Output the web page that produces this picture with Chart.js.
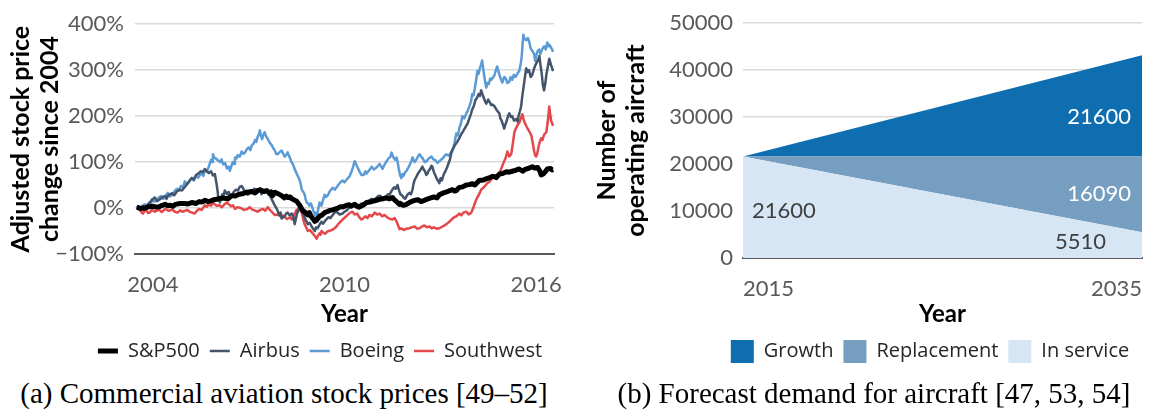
<!DOCTYPE html>
<html>
<head>
<meta charset="utf-8">
<script src="https://cdn.jsdelivr.net/npm/chart.js@4.4.1/dist/chart.umd.min.js"></script>
<style>
html,body{margin:0;padding:0;overflow:hidden;background:#fff;width:1156px;height:417px;position:relative;}
#c1{position:absolute;left:0;top:0;}
#c2{position:absolute;left:590px;top:0;}
.cap{position:absolute;top:377px;font-family:"Liberation Serif","Times New Roman",serif;font-size:29px;line-height:32px;color:#000;white-space:nowrap;transform:translateX(-50%);}
</style>
</head>
<body>
<canvas id="c1" width="640" height="371"></canvas>
<canvas id="c2" width="680" height="373"></canvas>
<div class="cap" style="left:284px">(a) Commercial aviation stock prices [49–52]</div>
<div class="cap" style="left:874px">(b) Forecast demand for aircraft [47, 53, 54]</div>
<script>
// ---------- Left chart data: [decimal year, % change since 2004] ----------
const sp500 = [[2003.50,2],[2003.62,-1],[2003.75,0],[2003.88,3],[2004.0,4],[2004.1,2],[2004.2,3],[2004.3,6],[2004.38,8],[2004.47,5],[2004.55,6],[2004.63,4],[2004.7,8],[2004.85,10],[2005.0,10],[2005.1,9],[2005.22,12],[2005.35,10],[2005.45,14],[2005.55,13],[2005.63,17],[2005.72,14],[2005.8,15],[2005.9,18],[2006.0,19],[2006.1,21],[2006.2,22],[2006.35,20],[2006.47,27],[2006.58,26],[2006.7,30],[2006.8,31],[2006.88,33],[2007.0,35],[2007.1,36],[2007.2,33],[2007.28,38],[2007.37,40],[2007.45,36],[2007.57,38],[2007.65,32],[2007.7,35],[2007.75,27],[2007.82,34],[2007.9,32],[2008.03,27],[2008.08,24],[2008.12,22],[2008.18,26],[2008.22,23],[2008.3,24],[2008.35,20],[2008.44,17],[2008.5,15],[2008.55,10],[2008.6,6],[2008.66,-2],[2008.7,-6],[2008.75,-8],[2008.8,-12],[2008.85,-15],[2008.9,-10],[2008.95,-18],[2009.0,-22],[2009.07,-29],[2009.12,-27],[2009.16,-23],[2009.22,-18],[2009.3,-15],[2009.38,-10],[2009.45,-8],[2009.55,-5],[2009.63,-4],[2009.72,-2],[2009.8,0],[2009.88,3],[2009.95,2],[2010.07,6],[2010.15,7],[2010.2,4],[2010.32,8],[2010.4,4],[2010.45,2],[2010.55,5],[2010.62,8],[2010.69,12],[2010.8,13],[2010.9,15],[2011.0,17],[2011.10,19],[2011.2,20],[2011.3,22],[2011.4,20],[2011.5,23],[2011.56,18],[2011.6,16],[2011.66,12],[2011.72,8],[2011.75,10],[2011.8,7],[2011.85,6],[2011.94,8],[2012.03,12],[2012.13,15],[2012.22,17],[2012.3,18],[2012.4,14],[2012.48,16],[2012.57,19],[2012.7,22],[2012.8,24],[2012.9,22],[2012.97,29],[2013.1,33],[2013.2,35],[2013.3,38],[2013.38,40],[2013.45,37],[2013.5,38],[2013.6,45],[2013.7,46],[2013.81,50],[2013.9,51],[2014.0,53],[2014.08,50],[2014.15,55],[2014.22,60],[2014.35,61],[2014.45,64],[2014.55,66],[2014.63,69],[2014.7,68],[2014.75,66],[2014.85,74],[2014.95,75],[2015.07,79],[2015.15,78],[2015.25,80],[2015.35,82],[2015.47,85],[2015.58,80],[2015.65,84],[2015.75,86],[2015.82,88],[2015.88,90],[2015.95,87],[2016.05,88],[2016.12,80],[2016.16,72],[2016.22,74],[2016.3,80],[2016.35,85],[2016.45,86],[2016.5,83],[2016.53,84]];
const airbus = [[2003.50,5],[2003.56,2],[2003.62,0],[2003.69,4],[2003.75,-2],[2003.82,6],[2003.88,10],[2003.95,16],[2004.06,23],[2004.13,15],[2004.2,18],[2004.3,24],[2004.38,26],[2004.43,20],[2004.47,27],[2004.54,30],[2004.6,32],[2004.67,28],[2004.75,36],[2004.83,40],[2004.91,38],[2004.98,44],[2005.05,50],[2005.13,58],[2005.22,65],[2005.28,62],[2005.35,72],[2005.42,75],[2005.5,80],[2005.56,78],[2005.63,85],[2005.69,80],[2005.75,76],[2005.82,80],[2005.88,71],[2005.94,74],[2005.97,62],[2006.0,50],[2006.03,35],[2006.05,20],[2006.08,16],[2006.10,12],[2006.14,22],[2006.18,30],[2006.21,26],[2006.25,38],[2006.29,34],[2006.32,30],[2006.38,35],[2006.42,24],[2006.47,27],[2006.53,35],[2006.6,40],[2006.66,38],[2006.72,46],[2006.78,48],[2006.83,42],[2006.88,35],[2006.93,38],[2006.97,29],[2007.03,32],[2007.1,35],[2007.17,42],[2007.25,40],[2007.30,36],[2007.35,42],[2007.40,30],[2007.45,36],[2007.50,33],[2007.57,38],[2007.65,28],[2007.70,22],[2007.75,15],[2007.80,8],[2007.88,-2],[2007.92,-8],[2007.95,-15],[2008.0,-10],[2008.03,-23],[2008.08,-20],[2008.13,-18],[2008.17,-12],[2008.22,-10],[2008.28,-16],[2008.35,-12],[2008.40,-20],[2008.44,-35],[2008.48,-22],[2008.52,-10],[2008.56,-2],[2008.60,6],[2008.64,-2],[2008.68,-10],[2008.72,-14],[2008.75,-20],[2008.80,-28],[2008.85,-35],[2008.91,-32],[2008.97,-40],[2009.02,-45],[2009.07,-50],[2009.11,-42],[2009.16,-44],[2009.22,-36],[2009.28,-30],[2009.33,-34],[2009.38,-29],[2009.44,-24],[2009.5,-20],[2009.56,-22],[2009.63,-15],[2009.69,-10],[2009.75,-8],[2009.85,-14],[2009.94,-12],[2010.0,-8],[2010.07,-5],[2010.16,2],[2010.25,6],[2010.32,4],[2010.4,0],[2010.46,6],[2010.53,10],[2010.6,8],[2010.69,12],[2010.77,16],[2010.85,20],[2010.92,18],[2011.0,22],[2011.05,26],[2011.10,27],[2011.2,22],[2011.3,25],[2011.36,30],[2011.41,29],[2011.48,38],[2011.55,45],[2011.6,42],[2011.66,50],[2011.7,40],[2011.75,30],[2011.81,27],[2011.86,22],[2011.9,20],[2011.96,28],[2012.03,33],[2012.08,30],[2012.13,40],[2012.16,52],[2012.19,60],[2012.25,68],[2012.30,75],[2012.37,82],[2012.44,90],[2012.48,84],[2012.52,80],[2012.56,72],[2012.60,75],[2012.64,82],[2012.68,85],[2012.72,92],[2012.75,90],[2012.80,78],[2012.85,70],[2012.90,62],[2012.94,58],[2012.97,54],[2013.01,65],[2013.05,60],[2013.09,70],[2013.12,75],[2013.17,82],[2013.22,90],[2013.26,98],[2013.30,105],[2013.33,115],[2013.35,123],[2013.40,130],[2013.45,136],[2013.53,144],[2013.58,150],[2013.65,160],[2013.72,168],[2013.81,179],[2013.86,185],[2013.91,195],[2013.96,205],[2014.00,215],[2014.05,222],[2014.10,235],[2014.15,240],[2014.2,248],[2014.24,244],[2014.28,256],[2014.32,248],[2014.36,240],[2014.40,232],[2014.44,227],[2014.50,236],[2014.55,230],[2014.59,224],[2014.63,225],[2014.69,222],[2014.75,215],[2014.80,210],[2014.85,206],[2014.88,195],[2014.92,190],[2014.96,182],[2015.00,173],[2015.04,182],[2015.08,190],[2015.12,200],[2015.16,206],[2015.21,198],[2015.25,200],[2015.31,190],[2015.38,194],[2015.42,188],[2015.45,200],[2015.49,210],[2015.53,221],[2015.57,245],[2015.62,270],[2015.66,290],[2015.69,304],[2015.73,296],[2015.78,300],[2015.83,285],[2015.88,290],[2015.93,302],[2015.97,310],[2016.03,318],[2016.08,325],[2016.10,331],[2016.14,310],[2016.18,290],[2016.21,268],[2016.25,256],[2016.29,272],[2016.32,290],[2016.36,305],[2016.41,325],[2016.44,318],[2016.47,310],[2016.5,305],[2016.53,298]];
const boeing = [[2003.50,4],[2003.56,-2],[2003.62,0],[2003.68,6],[2003.75,8],[2003.82,5],[2003.88,12],[2003.93,10],[2003.97,19],[2004.03,14],[2004.10,15],[2004.17,22],[2004.25,26],[2004.31,20],[2004.38,22],[2004.43,30],[2004.47,33],[2004.53,25],[2004.60,28],[2004.67,36],[2004.75,42],[2004.81,38],[2004.88,48],[2004.94,45],[2005.0,58],[2005.06,52],[2005.12,55],[2005.17,62],[2005.22,66],[2005.28,60],[2005.35,70],[2005.42,66],[2005.47,72],[2005.53,75],[2005.58,70],[2005.63,82],[2005.69,80],[2005.75,90],[2005.79,98],[2005.82,105],[2005.86,100],[2005.88,117],[2005.92,110],[2005.97,108],[2006.03,104],[2006.10,100],[2006.15,106],[2006.2,95],[2006.26,98],[2006.32,86],[2006.37,90],[2006.41,81],[2006.46,92],[2006.50,100],[2006.54,96],[2006.57,110],[2006.62,108],[2006.65,115],[2006.72,112],[2006.78,123],[2006.83,118],[2006.88,120],[2006.94,128],[2007.0,132],[2007.05,126],[2007.10,137],[2007.15,140],[2007.2,148],[2007.24,144],[2007.28,155],[2007.32,160],[2007.35,169],[2007.38,158],[2007.42,150],[2007.46,160],[2007.50,165],[2007.55,155],[2007.60,150],[2007.66,142],[2007.72,137],[2007.77,130],[2007.82,125],[2007.86,118],[2007.91,117],[2007.97,122],[2008.03,125],[2008.08,118],[2008.13,112],[2008.18,116],[2008.22,121],[2008.26,114],[2008.30,108],[2008.34,100],[2008.38,96],[2008.44,85],[2008.50,75],[2008.55,68],[2008.60,60],[2008.63,52],[2008.66,40],[2008.70,36],[2008.75,30],[2008.78,20],[2008.82,12],[2008.86,10],[2008.90,5],[2008.94,10],[2008.97,6],[2009.02,-5],[2009.07,-15],[2009.10,-10],[2009.13,-23],[2009.17,-5],[2009.22,12],[2009.25,8],[2009.28,5],[2009.33,18],[2009.38,29],[2009.42,24],[2009.47,27],[2009.55,38],[2009.63,44],[2009.70,40],[2009.78,48],[2009.86,55],[2009.94,60],[2010.0,56],[2010.07,62],[2010.12,66],[2010.16,69],[2010.21,78],[2010.25,85],[2010.29,95],[2010.32,102],[2010.36,96],[2010.40,90],[2010.44,84],[2010.47,79],[2010.53,72],[2010.60,72],[2010.65,80],[2010.69,75],[2010.77,82],[2010.85,90],[2010.92,84],[2011.0,88],[2011.05,92],[2011.10,96],[2011.15,90],[2011.19,85],[2011.25,94],[2011.30,100],[2011.38,108],[2011.44,112],[2011.47,121],[2011.52,112],[2011.58,105],[2011.63,110],[2011.67,98],[2011.70,85],[2011.74,72],[2011.78,65],[2011.82,74],[2011.85,70],[2011.90,78],[2011.94,81],[2012.0,88],[2012.05,95],[2012.09,102],[2012.13,110],[2012.19,100],[2012.25,105],[2012.3,112],[2012.35,117],[2012.40,112],[2012.45,108],[2012.51,100],[2012.57,102],[2012.64,108],[2012.72,112],[2012.78,106],[2012.85,104],[2012.91,98],[2012.97,102],[2013.04,106],[2013.10,110],[2013.15,115],[2013.19,117],[2013.26,114],[2013.32,120],[2013.38,123],[2013.44,140],[2013.50,162],[2013.55,158],[2013.60,175],[2013.65,185],[2013.69,200],[2013.75,195],[2013.81,205],[2013.86,212],[2013.91,221],[2013.96,232],[2014.00,248],[2014.04,245],[2014.08,260],[2014.12,278],[2014.16,298],[2014.20,292],[2014.24,305],[2014.28,312],[2014.31,321],[2014.35,300],[2014.38,285],[2014.41,272],[2014.44,262],[2014.48,272],[2014.52,270],[2014.56,282],[2014.60,279],[2014.65,284],[2014.70,290],[2014.74,300],[2014.78,308],[2014.82,298],[2014.85,290],[2014.90,280],[2014.94,273],[2015.0,285],[2015.05,282],[2015.10,272],[2015.16,275],[2015.20,285],[2015.25,279],[2015.30,290],[2015.35,285],[2015.41,292],[2015.47,298],[2015.51,310],[2015.55,330],[2015.58,360],[2015.60,377],[2015.64,368],[2015.69,365],[2015.74,370],[2015.78,363],[2015.82,350],[2015.85,345],[2015.90,340],[2015.94,335],[2015.97,320],[2016.00,331],[2016.05,342],[2016.10,345],[2016.13,335],[2016.16,340],[2016.21,348],[2016.25,352],[2016.30,345],[2016.35,360],[2016.39,352],[2016.42,355],[2016.46,350],[2016.50,345],[2016.53,340]];
const southwest = [[2003.50,2],[2003.55,-3],[2003.6,-5],[2003.65,-10],[2003.69,-12],[2003.74,-6],[2003.8,-5],[2003.85,-11],[2003.9,-10],[2003.97,-4],[2004.06,-8],[2004.13,-5],[2004.2,-4],[2004.28,-9],[2004.38,-2],[2004.44,-4],[2004.5,-6],[2004.6,-3],[2004.69,-8],[2004.77,-10],[2004.85,-5],[2004.92,-8],[2005.0,-6],[2005.07,-4],[2005.15,-8],[2005.23,-10],[2005.31,-12],[2005.38,-6],[2005.45,-2],[2005.53,-4],[2005.63,6],[2005.69,3],[2005.75,8],[2005.82,5],[2005.88,12],[2005.94,8],[2006.0,5],[2006.08,6],[2006.16,2],[2006.24,8],[2006.32,12],[2006.38,8],[2006.45,4],[2006.51,6],[2006.57,-2],[2006.65,2],[2006.75,0],[2006.85,-4],[2006.97,-2],[2007.03,2],[2007.1,-3],[2007.18,-5],[2007.28,-8],[2007.36,-4],[2007.45,-2],[2007.52,-6],[2007.60,2],[2007.66,-4],[2007.72,-8],[2007.77,-12],[2007.82,-15],[2007.9,-14],[2008.0,-18],[2008.06,-16],[2008.13,-19],[2008.19,-24],[2008.25,-22],[2008.30,-20],[2008.35,-25],[2008.42,-15],[2008.50,-4],[2008.55,-8],[2008.60,2],[2008.64,-6],[2008.68,-15],[2008.72,-28],[2008.75,-35],[2008.8,-42],[2008.85,-50],[2008.92,-48],[2009.0,-55],[2009.06,-60],[2009.13,-67],[2009.17,-60],[2009.22,-55],[2009.25,-58],[2009.28,-50],[2009.34,-54],[2009.40,-56],[2009.45,-52],[2009.5,-50],[2009.6,-48],[2009.69,-44],[2009.75,-40],[2009.8,-35],[2009.87,-30],[2009.94,-25],[2010.02,-20],[2010.1,-15],[2010.18,-10],[2010.25,-8],[2010.32,-14],[2010.40,-12],[2010.46,-20],[2010.53,-25],[2010.59,-22],[2010.65,-18],[2010.72,-22],[2010.78,-15],[2010.86,-18],[2010.95,-10],[2011.02,-14],[2011.10,-12],[2011.18,-18],[2011.25,-15],[2011.33,-20],[2011.41,-23],[2011.5,-25],[2011.57,-22],[2011.63,-29],[2011.68,-38],[2011.72,-46],[2011.78,-44],[2011.85,-48],[2011.93,-45],[2012.03,-44],[2012.1,-42],[2012.2,-40],[2012.27,-45],[2012.35,-44],[2012.43,-40],[2012.5,-38],[2012.58,-42],[2012.66,-40],[2012.73,-44],[2012.8,-42],[2012.88,-45],[2012.97,-44],[2013.08,-40],[2013.19,-35],[2013.28,-30],[2013.38,-23],[2013.44,-20],[2013.50,-18],[2013.55,-15],[2013.60,-12],[2013.66,-16],[2013.72,-10],[2013.81,-8],[2013.89,-14],[2013.97,-10],[2014.03,0],[2014.08,10],[2014.13,19],[2014.2,28],[2014.28,40],[2014.36,45],[2014.47,54],[2014.55,58],[2014.62,65],[2014.69,69],[2014.77,72],[2014.85,75],[2014.92,88],[2015.00,102],[2015.05,110],[2015.10,123],[2015.16,112],[2015.22,117],[2015.27,140],[2015.32,165],[2015.38,175],[2015.43,182],[2015.47,185],[2015.52,195],[2015.57,204],[2015.61,192],[2015.65,185],[2015.69,179],[2015.74,172],[2015.8,165],[2015.85,158],[2015.9,140],[2015.94,123],[2015.97,115],[2016.00,112],[2016.04,120],[2016.08,135],[2016.12,145],[2016.16,152],[2016.2,148],[2016.25,160],[2016.32,165],[2016.36,185],[2016.39,205],[2016.41,221],[2016.44,205],[2016.47,190],[2016.5,185],[2016.53,179]];
const leftXTicks = [2004, 2010, 2016];
const leftYTicks = [-100, 0, 100, 200, 300, 400];

// ---------- Right chart data ----------
const forecastYears = [2015, 2035];
const inService = [21600, 5510];
const replacement = [0, 16090];
const growth = [0, 21600];
const rightYTicks = [0, 10000, 20000, 30000, 40000, 50000];

const toXY = arr => arr.map(([x, y]) => ({x, y}));
const tickFont = {family: 'Lato', size: 22};
const tickColor = '#595959';
const titleFont = {family: 'Lato', size: 25, weight: 'bold', lineHeight: 1.15};
const xTitleFont = {family: 'Lato', size: 24, weight: 'bold', lineHeight: 1.1};
const legendFont = {family: 'Open Sans', size: 20};
const gridColor = '#d9d9d9';

new Chart(document.getElementById('c1'), {
  type: 'line',
  data: {
    datasets: [
      {label: 'S&P500', data: toXY(sp500), borderColor: '#000000', backgroundColor: '#000000', borderWidth: 5},
      {label: 'Airbus', data: toXY(airbus), borderColor: '#44546A', backgroundColor: '#44546A', borderWidth: 2.5},
      {label: 'Boeing', data: toXY(boeing), borderColor: '#5B9BD5', backgroundColor: '#5B9BD5', borderWidth: 2.5},
      {label: 'Southwest', data: toXY(southwest), borderColor: '#E5484B', backgroundColor: '#E5484B', borderWidth: 2.5}
    ]
  },
  options: {
    responsive: false, animation: false,
    elements: {point: {radius: 0}, line: {tension: 0, borderJoinStyle: 'round'}},
    layout: {padding: {top: 14, left: 0, right: 0, bottom: 0}},
    plugins: {
      tooltip: {enabled: false},
      legend: {position: 'bottom', labels: {usePointStyle: true, pointStyle: 'line', pointStyleWidth: 20, font: legendFont, color: '#262626', padding: 10}}
    },
    scales: {
      x: {
        type: 'linear', min: 2003.44, max: 2016.56,
        afterBuildTicks: s => { s.ticks = leftXTicks.map(v => ({value: v})); },
        ticks: {font: tickFont, color: tickColor, padding: 18, maxRotation: 0, autoSkip: false, callback: v => String(v)},
        grid: {display: false, drawTicks: false},
        border: {display: true, color: '#595959', width: 2},
        title: {display: true, text: 'Year', font: xTitleFont, color: '#000', padding: {top: 0, bottom: 4}},
        afterFit: s => { s.height = 77; }
      },
      y: {
        min: -100, max: 400,
        afterBuildTicks: s => { s.ticks = leftYTicks.map(v => ({value: v})); },
        ticks: {font: tickFont, color: tickColor, padding: 11, callback: v => (v < 0 ? '\u2212' + (-v) : v) + '%'},
        grid: {color: c => (c.tick && c.tick.value === -100) ? 'rgba(0,0,0,0)' : gridColor, lineWidth: 1.5, drawTicks: false},
        border: {display: false},
        title: {display: true, text: ['Adjusted stock price', 'change since 2004'], font: titleFont, color: '#000', padding: {top: 7, bottom: 0}},
        afterFit: s => { s.width = 135; }
      },
      yDummy: {
        position: 'right', display: true,
        grid: {display: false, drawTicks: false}, ticks: {display: false}, border: {display: false},
        afterFit: s => { s.width = 86; }
      }
    }
  }
});

const valueLabels = {
  id: 'valueLabels',
  afterDatasetsDraw(chart) {
    const {ctx, scales: {x, y}} = chart;
    ctx.save();
    ctx.font = '22px Lato';
    ctx.textBaseline = 'middle';
    const xr = x.getPixelForValue(forecastYears[1]);
    const xl = x.getPixelForValue(forecastYears[0]);
    ctx.fillStyle = '#ffffff';
    ctx.textAlign = 'right';
    ctx.fillText(String(growth[1]), xr - 11, y.getPixelForValue(inService[1] + replacement[1] + growth[1] * 0.39));
    ctx.fillText(String(replacement[1]), xr - 11, y.getPixelForValue(inService[1] + replacement[1] * 0.51));
    ctx.fillStyle = '#404040';
    ctx.fillText(String(inService[1]), xr - 36, y.getPixelForValue(inService[1] * 0.63));
    ctx.textAlign = 'left';
    ctx.fillText(String(inService[0]), xl + 9, y.getPixelForValue(inService[0] * 0.46));
    ctx.restore();
  }
};

new Chart(document.getElementById('c2'), {
  type: 'line',
  data: {
    datasets: [
      {label: 'In service', data: forecastYears.map((x, i) => ({x, y: inService[i]})), backgroundColor: '#D6E6F5', borderColor: '#D6E6F5', borderWidth: 0, fill: 'origin'},
      {label: 'Replacement', data: forecastYears.map((x, i) => ({x, y: replacement[i]})), backgroundColor: '#769EC0', borderColor: '#769EC0', borderWidth: 0, fill: '-1'},
      {label: 'Growth', data: forecastYears.map((x, i) => ({x, y: growth[i]})), backgroundColor: '#0F6EB0', borderColor: '#0F6EB0', borderWidth: 0, fill: '-1'}
    ]
  },
  options: {
    responsive: false, animation: false,
    elements: {point: {radius: 0}, line: {tension: 0}},
    layout: {padding: {top: 15, left: 0, right: 0, bottom: 0}},
    plugins: {
      tooltip: {enabled: false},
      legend: {position: 'bottom', reverse: true, labels: {boxWidth: 23, boxHeight: 23, font: legendFont, color: '#262626', padding: 10}}
    },
    scales: {
      x: {
        type: 'linear', min: forecastYears[0], max: forecastYears[1], z: 1,
        afterBuildTicks: s => { s.ticks = forecastYears.map(v => ({value: v})); },
        ticks: {font: tickFont, color: tickColor, padding: 18, align: 'inner', maxRotation: 0, autoSkip: false, callback: v => String(v)},
        grid: {display: false, drawTicks: false},
        border: {display: true, color: '#595959', width: 2},
        title: {display: true, text: 'Year', font: xTitleFont, color: '#000', padding: {top: 0, bottom: 3}},
        afterFit: s => { s.height = 72; }
      },
      y: {
        stacked: true, min: 0, max: 50000,
        afterBuildTicks: s => { s.ticks = rightYTicks.map(v => ({value: v})); },
        ticks: {font: tickFont, color: tickColor, padding: 10, callback: v => String(v)},
        grid: {color: c => (c.tick && c.tick.value === 0) ? 'rgba(0,0,0,0)' : gridColor, lineWidth: 1.5, drawTicks: false},
        border: {display: false},
        title: {display: true, text: ['Number of', 'operating aircraft'], font: titleFont, color: '#000', padding: {top: 3, bottom: 0}},
        afterFit: s => { s.width = 153; }
      },
      yDummy: {
        position: 'right', display: true,
        grid: {display: false, drawTicks: false}, ticks: {display: false}, border: {display: false},
        afterFit: s => { s.width = 128; }
      }
    }
  },
  plugins: [valueLabels]
});
</script>
</body>
</html>
